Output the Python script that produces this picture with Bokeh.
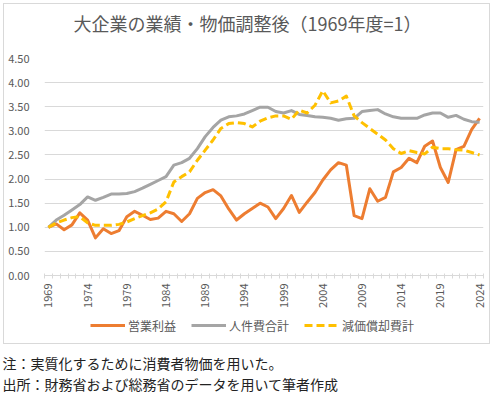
import math
from bokeh.plotting import figure
from bokeh.layouts import column
from bokeh.models import (FixedTicker, Legend, LegendItem, Label,
                          NumeralTickFormatter, Range1d)
from bokeh.embed import file_html
from bokeh.resources import INLINE

# ---------------- data ----------------
years = list(range(1969, 2025))

operating_profit = [
    1.00, 1.07, 0.95, 1.05, 1.30, 1.15, 0.78, 0.97, 0.87, 0.93,
    1.22, 1.33, 1.25, 1.16, 1.19, 1.33, 1.28, 1.12, 1.28, 1.60,
    1.72, 1.78, 1.65, 1.38, 1.15, 1.28, 1.39, 1.50, 1.42, 1.18,
    1.39, 1.66, 1.31, 1.52, 1.72, 1.98, 2.19, 2.34, 2.29, 1.24,
    1.18, 1.80, 1.54, 1.62, 2.15, 2.24, 2.43, 2.34, 2.68, 2.79,
    2.24, 1.93, 2.61, 2.68, 3.03, 3.26,
]
labor_cost = [
    1.00, 1.15, 1.25, 1.36, 1.47, 1.63, 1.56, 1.62, 1.69, 1.69,
    1.70, 1.74, 1.81, 1.89, 1.97, 2.05, 2.29, 2.34, 2.43, 2.63,
    2.88, 3.07, 3.22, 3.29, 3.31, 3.35, 3.42, 3.49, 3.49, 3.40,
    3.37, 3.42, 3.34, 3.32, 3.29, 3.28, 3.26, 3.22, 3.25, 3.26,
    3.40, 3.42, 3.44, 3.35, 3.29, 3.26, 3.26, 3.26, 3.33, 3.37,
    3.37, 3.28, 3.32, 3.24, 3.19, 3.18,
]
depreciation = [
    1.00, 1.09, 1.15, 1.20, 1.22, 1.09, 1.04, 1.04, 1.04, 1.06,
    1.11, 1.18, 1.24, 1.30, 1.38, 1.53, 1.94, 2.05, 2.15, 2.39,
    2.60, 2.81, 3.05, 3.15, 3.17, 3.15, 3.08, 3.20, 3.27, 3.31,
    3.31, 3.24, 3.43, 3.37, 3.53, 3.83, 3.58, 3.62, 3.72, 3.31,
    3.17, 3.05, 2.93, 2.81, 2.63, 2.53, 2.59, 2.55, 2.52, 2.66,
    2.63, 2.63, 2.61, 2.60, 2.55, 2.50,
]

series_names = ["営業利益", "人件費合計", "減価償却費計"]
x_tick_years = [1969, 1974, 1979, 1984, 1989, 1994, 1999, 2004, 2009, 2014, 2019, 2024]
y_ticks = [0.0, 0.5, 1.0, 1.5, 2.0, 2.5, 3.0, 3.5, 4.0, 4.5]

title_text = "大企業の業績・物価調整後（1969年度=1）"
note1 = "注：実質化するために消費者物価を用いた。"
note2 = "出所：財務省および総務省のデータを用いて筆者作成"

# ---------------- styling ----------------
FONT = "Noto Sans CJK JP"
TXT = "#595959"
GRID = "#D9D9D9"
C_OP = "#ED7D31"
C_LAB = "#A5A5A5"
C_DEP = "#FFC000"
W = 493


def clear_fills(f):
    f.background_fill_color = None
    f.border_fill_color = None
    f.outline_line_color = None


def blank_fig(h):
    f = figure(width=W, height=h, output_backend="svg", toolbar_location=None,
               x_axis_location=None, y_axis_location=None,
               x_range=Range1d(0, 1), y_range=Range1d(0, 1),
               min_border=0, frame_align=False)
    clear_fills(f)
    f.xgrid.visible = False
    f.ygrid.visible = False
    return f


# ---- title strip ----
title_fig = blank_fig(50)
title_fig.add_layout(Label(x=247, y=28, x_units="screen", y_units="screen",
                           text=title_text, text_align="center",
                           text_baseline="middle", text_font=FONT,
                           text_font_size="18px", text_color=TXT))

# ---- main chart ----
p = figure(width=W, height=265, output_backend="svg", toolbar_location=None,
           x_range=Range1d(years[0] - 0.5, years[-1] + 0.5),
           y_range=Range1d(0, 4.5),
           min_border_left=44, min_border_right=10,
           min_border_top=8, min_border_bottom=40, frame_align=False)
clear_fills(p)

p.line(years, operating_profit, line_color=C_OP, line_width=3, line_join="round")
p.line(years, labor_cost, line_color=C_LAB, line_width=3, line_join="round")
p.line(years, depreciation, line_color=C_DEP, line_width=3, line_join="round",
       line_dash="8 4")

xa = p.xaxis[0]
xa.ticker = FixedTicker(ticks=x_tick_years,
                        minor_ticks=[y - 0.5 for y in years] + [years[-1] + 0.5])
xa.major_label_orientation = math.pi / 2
xa.major_tick_in = 0
xa.major_tick_out = 0
xa.minor_tick_in = 2
xa.minor_tick_out = 3
xa.minor_tick_line_color = GRID
xa.axis_line_color = GRID
xa.major_label_text_color = TXT
xa.major_label_text_font = FONT
xa.major_label_text_font_size = "11px"
xa.major_label_standoff = 5

ya = p.yaxis[0]
ya.ticker = FixedTicker(ticks=y_ticks)
ya.formatter = NumeralTickFormatter(format="0.00")
ya.axis_line_color = None
ya.major_tick_line_color = None
ya.minor_tick_line_color = None
ya.major_label_text_color = TXT
ya.major_label_text_font = FONT
ya.major_label_text_font_size = "11px"
ya.major_label_standoff = 9

p.xgrid.visible = False
p.ygrid.ticker = FixedTicker(ticks=y_ticks)
p.ygrid.grid_line_color = GRID
p.ygrid.grid_line_width = 1

# ---- legend strip (key lines drawn off-range, only their legend glyphs show) ----
leg_fig = blank_fig(32)
off = [-5, -4]
k1 = leg_fig.line(off, off, line_color=C_OP, line_width=3)
k2 = leg_fig.line(off, off, line_color=C_LAB, line_width=3)
k3 = leg_fig.line(off, off, line_color=C_DEP, line_width=3, line_dash="8 4")
legend = Legend(items=[LegendItem(label=series_names[0], renderers=[k1]),
                       LegendItem(label=series_names[1], renderers=[k2]),
                       LegendItem(label=series_names[2], renderers=[k3])],
                orientation="horizontal", location=(90, 12),
                glyph_width=35, glyph_height=20, label_height=20,
                label_standoff=3, spacing=15, padding=0, margin=0,
                border_line_color=None, background_fill_alpha=0,
                label_text_font=FONT, label_text_font_size="12px",
                label_text_color=TXT)
leg_fig.add_layout(legend)

# ---- notes strip ----
notes_fig = blank_fig(52)
notes_fig.add_layout(Label(x=2, y=37, x_units="screen", y_units="screen", text=note1,
                           text_align="left", text_baseline="middle", text_font=FONT,
                           text_font_size="14px", text_color="#222222"))
notes_fig.add_layout(Label(x=2, y=16, x_units="screen", y_units="screen", text=note2,
                           text_align="left", text_baseline="middle", text_font=FONT,
                           text_font_size="14px", text_color="#222222"))

chart_box = column(title_fig, p, leg_fig, spacing=0,
                   styles={"outline": "1px solid #D9D9D9", "outline-offset": "-4px",
                           "background-color": "white"})
layout = column(chart_box, notes_fig, spacing=0)

open("out.html", "w").write(file_html(layout, INLINE))
